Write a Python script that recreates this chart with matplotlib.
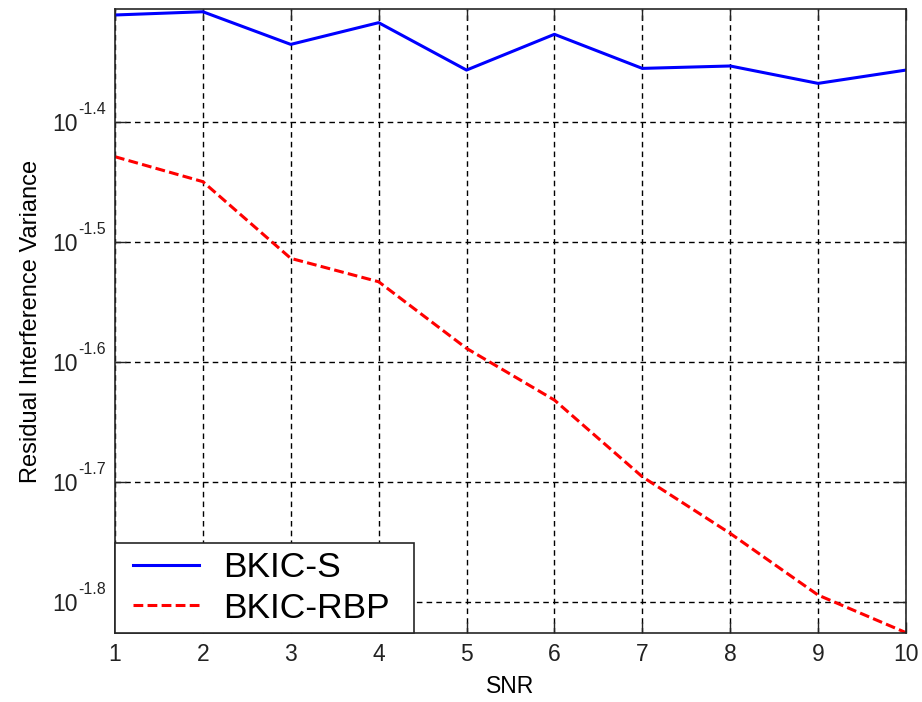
import numpy as np
import matplotlib
matplotlib.use("Agg")
import matplotlib.pyplot as plt
import matplotlib.transforms as mtransforms
from matplotlib.patches import Rectangle

plt.rcParams['font.family'] = ['Liberation Sans', 'DejaVu Sans']

snr = [1, 2, 3, 4, 5, 6, 7, 8, 9, 10]
# values as log10 exponents
bkic_s_exp = [-1.3108, -1.3081, -1.3353, -1.3172, -1.3567,
              -1.3269, -1.3553, -1.3533, -1.3678, -1.3567]
bkic_rbp_exp = [-1.4289, -1.4497, -1.5136, -1.5331, -1.5886,
                -1.6317, -1.6956, -1.7428, -1.7942, -1.8255]
ytick_exp = [-1.8, -1.7, -1.6, -1.5, -1.4]

bkic_s = 10 ** np.array(bkic_s_exp)
bkic_rbp = 10 ** np.array(bkic_rbp_exp)

fig = plt.figure(figsize=(9.22, 7.02), dpi=100)
ax = fig.add_axes([0.1247, 0.0983, 0.9826 - 0.1247, 0.9872 - 0.0983])

ax.plot(snr, bkic_s, color='#0000ff', lw=2.2, label='BKIC-S')
ax.plot(snr, bkic_rbp, color='#ff0000', lw=2.2, linestyle=(0, (3.2, 1.4)),
        label='BKIC-RBP')

ax.set_yscale('log')
ax.set_xlim(1, 10)
ax.set_ylim(10 ** -1.8258, 10 ** -1.3058)
ax.set_xticks(snr)
ax.set_xticklabels([str(v) for v in snr])
ax.set_yticks([10 ** e for e in ytick_exp])
ax.set_yticklabels(['10'] * len(ytick_exp))
ax.yaxis.set_minor_locator(matplotlib.ticker.NullLocator())

ax.grid(True, color='black', linestyle=(0, (4, 3)), linewidth=1.0)
ax.tick_params(direction='in', length=8, width=1.0, top=True, right=True,
               labelsize=16.5, colors='#222222')
ax.tick_params(axis='y', pad=27)
ax.tick_params(axis='x', pad=7)
for sp in ax.spines.values():
    sp.set_color('#262626')
    sp.set_linewidth(1.2)

# exponents of the y tick labels, written as small raised text
trans = mtransforms.blended_transform_factory(ax.transAxes, ax.transData)
for e in ytick_exp:
    ax.annotate('%.1f' % e, xy=(-0.0468, 10 ** e), xycoords=trans,
                xytext=(0, 5.5), textcoords='offset points',
                ha='left', va='baseline', fontsize=11.5, color='#222222',
                annotation_clip=False)

ax.set_xlabel('SNR', fontsize=16.5, labelpad=7)
ax.set_ylabel('Residual Interference Variance', fontsize=17, labelpad=7)

# legend box: square frame in the lower left corner
box = Rectangle((0, 0), 0.378, 0.1442, transform=ax.transAxes,
                facecolor='white', edgecolor='#262626', linewidth=1.2,
                zorder=4, clip_on=False)
ax.add_patch(box)
leg = ax.legend(loc='center left', bbox_to_anchor=(0.0228, 0.0721),
                fontsize=25.5, frameon=False, handlelength=1.85,
                handletextpad=0.7, borderaxespad=0, borderpad=0,
                labelspacing=0.2)
leg.set_zorder(5)

fig.savefig('out.png', dpi=100)
